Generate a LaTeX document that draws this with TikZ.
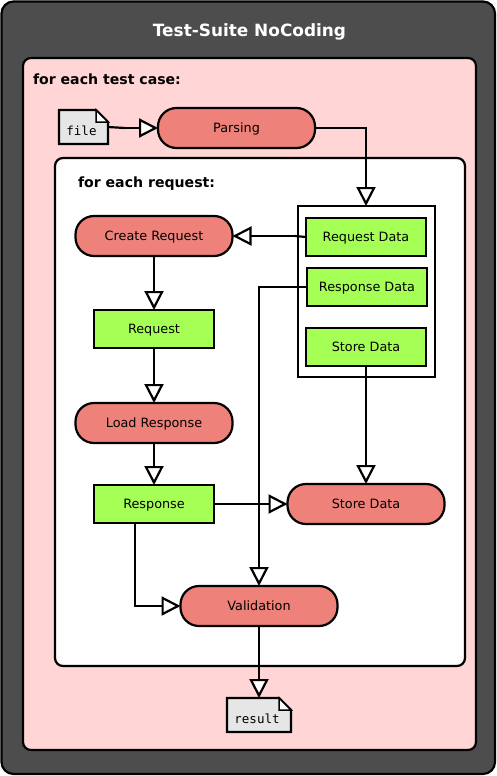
\documentclass[tikz,border=0pt]{standalone}
\usepackage{fontspec}
\setmainfont{DejaVu Sans}
\setmonofont{DejaVu Sans Mono}
\usetikzlibrary{arrows.meta,calc}
\definecolor{darkbg}{HTML}{4D4D4D}
\definecolor{pinkbg}{HTML}{FFD5D5}
\definecolor{salmon}{HTML}{EE827A}
\definecolor{limeg}{HTML}{A6FF55}
\definecolor{docgray}{HTML}{E6E6E6}
\tikzset{
  x=1pt,y=-1pt,
  every node/.style={outer sep=0pt,inner sep=0pt},
  panel/.style={draw=black,line width=2.2pt},
  opnode/.style={draw=black,line width=2.2pt,fill=salmon,rounded corners=18.5pt,minimum width=157pt,minimum height=40pt,text height=9pt,text depth=0pt,font=\fontsize{12.8}{15}\selectfont},
  datanode/.style={draw=black,line width=2.2pt,fill=limeg,minimum width=120pt,minimum height=38pt,text height=9pt,text depth=0pt,font=\fontsize{12.8}{15}\selectfont},
  docnode/.style={font=\ttfamily\fontsize{12.5}{15}\selectfont},
  heading/.style={font=\bfseries\fontsize{14.1}{17}\selectfont,anchor=west},
  flow/.style={draw=black,line width=2.2pt,-{Triangle[length=19pt,width=19pt,fill=white,line join=miter]}},
}
\newcommand{\docshape}[1]{%
  \draw[draw=black,line width=2.2pt,fill=docgray,line join=miter]
    (#1.north west) -- ($(#1.north east)+(-12,0)$) -- ($(#1.north east)+(0,12)$) -- (#1.south east) -- (#1.south west) -- cycle;
  \draw[draw=black,line width=1.5pt,fill=white,line join=miter]
    ($(#1.north east)+(-12,0)$) -- ($(#1.north east)+(-12,12)$) -- ($(#1.north east)+(0,12)$) -- cycle;
}
\begin{document}
\begin{tikzpicture}
\useasboundingbox (0,0) rectangle (497,776);
% panels
\draw[panel,fill=darkbg,rounded corners=12pt] (1.5,1.5) rectangle (495,774);
\draw[panel,fill=pinkbg,rounded corners=8pt] (23,58) rectangle (476,750);
\draw[panel,fill=white,rounded corners=8pt] (55,158) rectangle (465,666);
\node (title) at (249.5,32) {\color{white}\bfseries\fontsize{16.9}{20}\selectfont Test-Suite NoCoding};
\node[heading] (headcase) at (33,79) {for each test case:};
\node[heading] (headreq) at (78,183.5) {for each request:};
% data container
\node[panel,fill=white,minimum width=137pt,minimum height=171pt] (store) at (366.5,291.5) {};
% operations
\node[opnode] (parsing) at (236.5,128) {Parsing};
\node[opnode] (create) at (154,236) {Create Request};
\node[opnode] (load) at (154,423) {Load Response};
\node[opnode] (storeop) at (366,504) {Store Data};
\node[opnode] (validation) at (259,606) {Validation};
% data
\node[datanode] (reqdata) at (366,237) {Request Data};
\node[datanode] (respdata) at (367,287) {Response Data};
\node[datanode] (storedata) at (366,347) {Store Data};
\node[datanode] (request) at (154,329) {Request};
\node[datanode] (response) at (154,504) {Response};
% documents
\node[minimum width=49pt,minimum height=34pt] (file) at (83.5,127) {};
\docshape{file}
\node[docnode] (filetext) at (81.5,131) {file};
\node[minimum width=64pt,minimum height=34pt] (result) at (259,715) {};
\docshape{result}
\node[docnode] (resulttext) at (257,719) {result};
% connectors
\coordinate (respdown) at (135,523);
\coordinate (filekink) at (125,128);
\coordinate (reqkink) at (295,236);
\coordinate (storetop) at (366,206);
\draw[draw=black,line width=2.2pt] (file.east) -- (filekink);
\draw[flow] (filekink) -- (parsing.west);
\draw[flow] (parsing.east) -| (storetop);
\draw[draw=black,line width=2.2pt] (reqdata.west) -- (reqkink);
\draw[flow] (reqkink) -- (create.east);
\draw[flow] (create.south) -- (request.north);
\draw[flow] (request.south) -- (load.north);
\draw[flow] (load.south) -- (response.north);
\draw[flow] (response.east) -- (storeop.west);
\draw[flow] (storedata.south) -- (storeop.north);
\draw[flow] (respdata.west) -| (validation.north);
\draw[flow] (respdown) |- (validation.west);
\draw[flow] (validation.south) -- (result.north);
\end{tikzpicture}
\end{document}
